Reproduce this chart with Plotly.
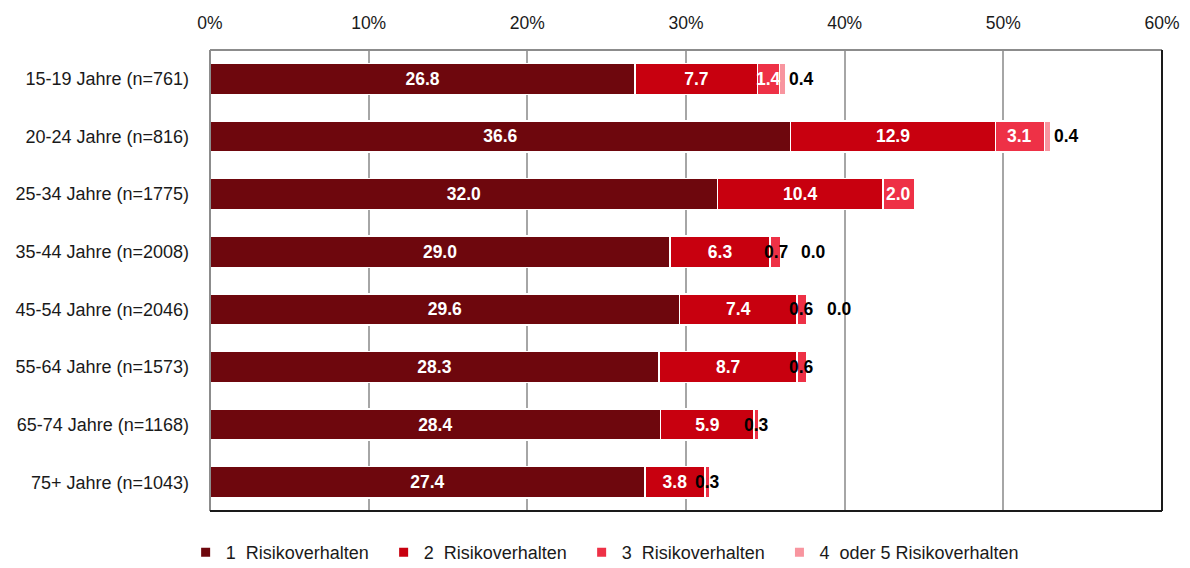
import plotly.graph_objects as go

# Age groups (top to bottom) and share of respondents by number of risk behaviours (%)
groups = [
    "15-19 Jahre (n=761)",
    "20-24 Jahre (n=816)",
    "25-34 Jahre (n=1775)",
    "35-44 Jahre (n=2008)",
    "45-54 Jahre (n=2046)",
    "55-64 Jahre (n=1573)",
    "65-74 Jahre (n=1168)",
    "75+ Jahre (n=1043)",
]
one_risk = [26.8, 36.6, 32.0, 29.0, 29.6, 28.3, 28.4, 27.4]
two_risk = [7.7, 12.9, 10.4, 6.3, 7.4, 8.7, 5.9, 3.8]
three_risk = [1.4, 3.1, 2.0, 0.7, 0.6, 0.6, 0.3, 0.3]
four_five_risk = [0.4, 0.4, 0.1, 0.0, 0.0, None, None, None]
# Labels shown for the last segment (empty where no label is printed)
four_five_labels = ["0.4", "0.4", "", "0.0", "0.0", "", "", ""]

series_names = [
    "1  Risikoverhalten",
    "2  Risikoverhalten",
    "3  Risikoverhalten",
    "4  oder 5 Risikoverhalten",
]
colors = ["#6E070D", "#C8000F", "#EE3146", "#F8959F"]

FONT = "Liberation Sans, Arial, sans-serif"

fig = go.Figure()

all_series = [one_risk, two_risk, three_risk, four_five_risk]
for i, vals in enumerate(all_series):
    show_text = i < 2
    fig.add_trace(go.Bar(
        y=groups,
        x=vals,
        orientation="h",
        name=series_names[i],
        marker=dict(color=colors[i], line=dict(color="white", width=1.5)),
        text=[f"{v:.1f}" for v in vals] if show_text else None,
        textposition="inside" if show_text else "none",
        insidetextanchor="middle",
        textfont=dict(family=FONT, size=17.5, color="white", weight="bold"),
        showlegend=False,
        hoverinfo="skip",
    ))

# Legend entries with small square markers (last entry in its own legend box
# so its longer text is not clipped by the fixed entry width)
for i, name in enumerate(series_names):
    fig.add_trace(go.Scatter(
        x=[None], y=[None], mode="markers", name=name,
        marker=dict(symbol="square", size=9, color=colors[i]),
        legend="legend" if i < 3 else "legend2",
    ))

annotations = []
# Labels for the third segment: white inside when wide enough, black otherwise
for g, a, b, c in zip(groups, one_risk, two_risk, three_risk):
    mid = a + b + c / 2
    annotations.append(dict(
        x=mid, y=g, xref="x", yref="y", text=f"{c:.1f}", showarrow=False,
        font=dict(family=FONT, size=17.5, weight="bold",
                  color="white" if c >= 1 else "black"),
    ))
# Labels for the last segment, placed after the bar end
for g, a, b, c, d, lab in zip(groups, one_risk, two_risk, three_risk,
                              four_five_risk, four_five_labels):
    if d is None or not lab:
        continue
    end = a + b + c + d
    annotations.append(dict(
        x=end, y=g, xref="x", yref="y", text=lab, showarrow=False,
        xanchor="left", xshift=1 if d > 0 else 18,
        font=dict(family=FONT, size=17.5, weight="bold", color="black"),
    ))

# Plot frame: grey left/top, dark right/bottom
shapes = [
    dict(type="line", xref="paper", yref="paper", x0=0, x1=0, y0=0, y1=1,
         line=dict(color="#8C8C8C", width=2)),
    dict(type="line", xref="paper", yref="paper", x0=0, x1=1, y0=1, y1=1,
         line=dict(color="#8C8C8C", width=2)),
    dict(type="line", xref="paper", yref="paper", x0=1, x1=1, y0=0, y1=1,
         line=dict(color="#1A1A1A", width=2)),
    dict(type="line", xref="paper", yref="paper", x0=0, x1=1, y0=0, y1=0,
         line=dict(color="#1A1A1A", width=2)),
]

legend_common = dict(
    orientation="h", xref="container", yref="container",
    xanchor="left", y=0.027, yanchor="middle",
    font=dict(family=FONT, size=18, color="#1A1A1A"),
    itemwidth=30, tracegroupgap=0, traceorder="normal",
    bgcolor="rgba(0,0,0,0)",
)

fig.update_layout(
    width=1190, height=568,
    margin=dict(l=210, r=28, t=50, b=57, autoexpand=False),
    barmode="stack",
    bargap=0.46,
    plot_bgcolor="white",
    paper_bgcolor="white",
    font=dict(family=FONT, size=18, color="#1A1A1A"),
    annotations=annotations,
    shapes=shapes,
    legend=dict(legend_common, x=0.156, entrywidth=153, entrywidthmode="pixels"),
    legend2=dict(legend_common, x=0.655),
    xaxis=dict(
        side="top", range=[0, 60], dtick=10,
        ticksuffix="%", showgrid=True, gridcolor="#A6A6A6", gridwidth=2,
        zeroline=False, showline=False, ticks="", ticklabelstandoff=17,
        tickfont=dict(family=FONT, size=17.5), automargin=False,
    ),
    yaxis=dict(
        autorange="reversed", showgrid=False, zeroline=False, showline=False,
        ticks="", ticklabelstandoff=20, automargin=False,
        tickfont=dict(family=FONT, size=18),
    ),
)

fig.write_html("out.html")
